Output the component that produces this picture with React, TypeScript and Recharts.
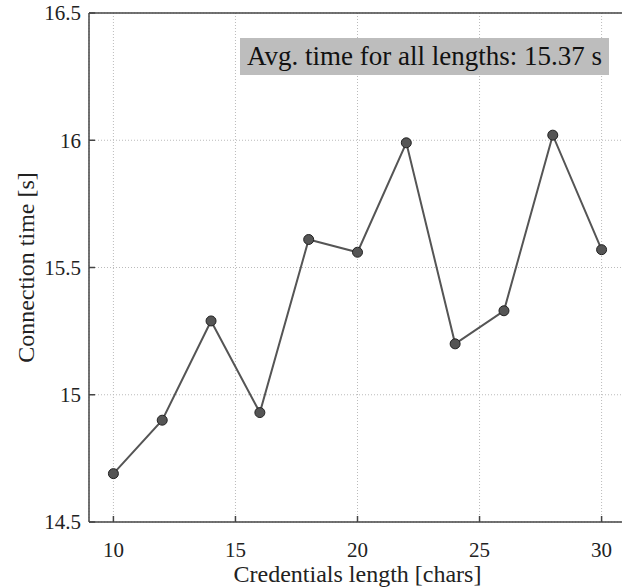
import { LineChart, Line, XAxis, YAxis, CartesianGrid, ReferenceLine } from 'recharts';

const lengths = [10, 12, 14, 16, 18, 20, 22, 24, 26, 28, 30];
const times = [14.69, 14.9, 15.29, 14.93, 15.61, 15.56, 15.99, 15.2, 15.33, 16.02, 15.57];
const xTicks = [10, 15, 20, 25, 30];
const yTicks = [14.5, 15, 15.5, 16, 16.5];
const avgLabel = 'Avg. time for all lengths: 15.37 s';

const data = lengths.map((len, i) => ({ len, time: times[i] }));

const FONT = "'Liberation Serif', 'DejaVu Serif', serif";
const AXIS = '#444';

function XTick(props: any) {
  const { x, y, payload } = props;
  return (
    <g>
      <line x1={x} y1={y} x2={x} y2={y - 6} stroke={AXIS} strokeWidth={1.5} />
      <text x={x} y={y + 35} textAnchor="middle" fontSize={21} style={{ fontFamily: FONT }} fill="#222">
        {payload.value}
      </text>
    </g>
  );
}

function YTick(props: any) {
  const { x, y, payload } = props;
  return (
    <g>
      <line x1={x} y1={y} x2={x + 6} y2={y} stroke={AXIS} strokeWidth={1.5} />
      <text x={x - 8} y={y} dy="0.35em" textAnchor="end" fontSize={21} style={{ fontFamily: FONT }} fill="#222">
        {payload.value}
      </text>
    </g>
  );
}

export default function App() {
  return (
    <div style={{ position: 'fixed', left: 0, top: 0, width: 622, height: 588, overflow: 'hidden', background: '#fff', fontFamily: FONT }}>
      <LineChart
        width={640}
        height={588}
        data={data}
        margin={{ top: 13, right: 14, bottom: 0, left: 0 }}
        style={{ fontFamily: FONT }}
      >
        <CartesianGrid stroke="#bbb" strokeDasharray="1 2" />
        <XAxis
          dataKey="len"
          type="number"
          domain={[9, 31]}
          ticks={xTicks}
          height={66}
          tickSize={0}
          tickMargin={0}
          tickLine={false}
          tick={<XTick />}
          stroke={AXIS}
          strokeWidth={1.5}
          label={{
            content: (p: any) => {
              const vb = p.viewBox;
              return (
                <text x={vb.x + vb.width / 2} y={vb.y + 60} textAnchor="middle" fontSize={24} style={{ fontFamily: FONT }} fill="#222">
                  Credentials length [chars]
                </text>
              );
            },
          }}
        />
        <YAxis
          type="number"
          domain={[14.5, 16.5]}
          ticks={yTicks}
          width={89}
          tickSize={0}
          tickMargin={0}
          tickLine={false}
          tick={<YTick />}
          stroke={AXIS}
          strokeWidth={1.5}
          label={{
            content: (p: any) => {
              const vb = p.viewBox;
              const cx = vb.x + 26;
              const cy = vb.y + vb.height / 2;
              return (
                <text
                  x={cx}
                  y={cy}
                  transform={`rotate(-90 ${cx} ${cy})`}
                  textAnchor="middle"
                  dominantBaseline="central"
                  fontSize={24}
                  style={{ fontFamily: FONT }}
                  fill="#222"
                >
                  Connection time [s]
                </text>
              );
            },
          }}
        />
        <ReferenceLine y={16.5} stroke={AXIS} strokeWidth={1.5} />
        <Line
          type="linear"
          dataKey="time"
          stroke="#555"
          strokeWidth={2}
          dot={{ r: 5, fill: '#555', stroke: '#222', strokeWidth: 1 }}
          isAnimationActive={false}
        />
      </LineChart>
      <div
        style={{
          position: 'absolute',
          left: 240,
          top: 38,
          width: 369,
          height: 37,
          background: '#bdbdbd',
          fontFamily: FONT,
          fontSize: 27,
          color: '#111',
          display: 'flex',
          alignItems: 'center',
          justifyContent: 'center',
          whiteSpace: 'nowrap',
        }}
      >
        {avgLabel}
      </div>
    </div>
  );
}
